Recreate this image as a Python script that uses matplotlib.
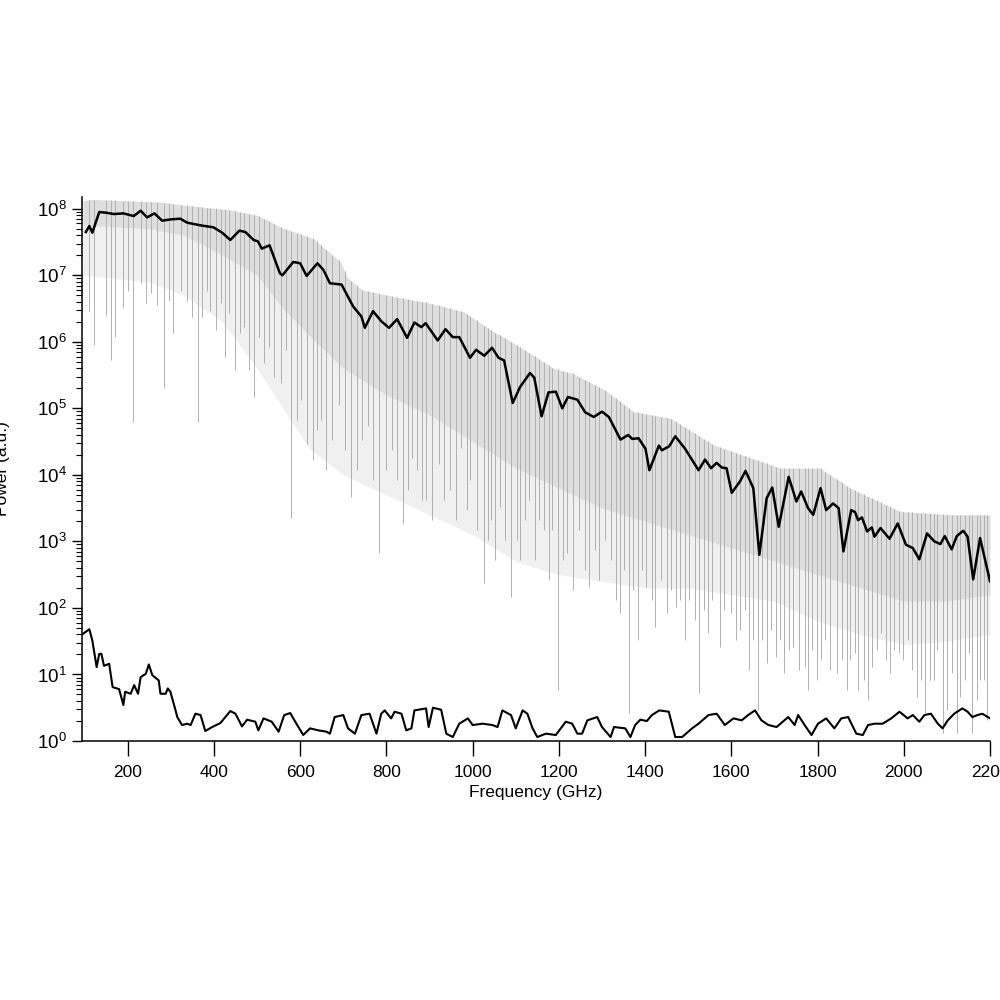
import numpy as np
import matplotlib
matplotlib.use("Agg")
import matplotlib.pyplot as plt
from matplotlib.ticker import LogLocator, FixedLocator, NullFormatter

plt.rcParams['font.family'] = ['Liberation Sans', 'DejaVu Sans']
plt.rcParams['mathtext.default'] = 'regular'

# ---------------- data ----------------
# smoothed signal spectrum (black, upper)  -- frequency (GHz), log10(power)
sig_f = [103, 111, 118, 134, 150, 168, 190, 214, 230, 245, 262, 280, 300, 322, 338, 369, 399, 419,
         438, 459, 473, 492, 502, 511, 529, 553, 559, 584, 600, 615, 640, 654, 669, 696, 723, 742,
         750, 769, 788, 806, 825, 848, 865, 881, 891, 919, 937, 954, 969, 994, 1008, 1027, 1045,
         1060, 1073, 1093, 1110, 1133, 1143, 1160, 1176, 1193, 1208, 1221, 1243, 1261, 1281, 1300,
         1316, 1343, 1361, 1370, 1385, 1401, 1410, 1432, 1439, 1456, 1470, 1493, 1524, 1539, 1553,
         1566, 1578, 1589, 1601, 1620, 1633, 1651, 1665, 1682, 1695, 1710, 1733, 1751, 1762, 1778,
         1790, 1807, 1820, 1836, 1849, 1860, 1878, 1887, 1894, 1903, 1915, 1926, 1932, 1946, 1967,
         1986, 2005, 2021, 2036, 2054, 2071, 2085, 2095, 2111, 2123, 2138, 2148, 2161, 2177, 2200]
sig_log = [7.65, 7.74, 7.64, 7.95, 7.94, 7.92, 7.93, 7.89, 7.97, 7.87, 7.93, 7.82, 7.84, 7.85, 7.79,
           7.75, 7.72, 7.64, 7.53, 7.67, 7.65, 7.53, 7.51, 7.40, 7.45, 7.03, 7.00, 7.20, 7.18, 6.99,
           7.18, 7.08, 6.88, 6.86, 6.53, 6.38, 6.21, 6.46, 6.31, 6.21, 6.34, 6.06, 6.29, 6.22, 6.28,
           6.02, 6.19, 6.07, 6.07, 5.76, 5.88, 5.79, 5.91, 5.76, 5.72, 5.08, 5.32, 5.53, 5.46, 4.88,
           5.24, 5.25, 5.00, 5.17, 5.13, 4.94, 4.87, 4.95, 4.87, 4.53, 4.60, 4.54, 4.55, 4.39, 4.07,
           4.44, 4.37, 4.43, 4.58, 4.39, 4.07, 4.23, 4.10, 4.18, 4.11, 4.10, 3.73, 3.90, 4.06, 3.80,
           2.80, 3.65, 3.81, 3.22, 3.97, 3.60, 3.75, 3.50, 3.40, 3.80, 3.47, 3.57, 3.50, 2.85, 3.47,
           3.44, 3.32, 3.36, 3.15, 3.21, 3.07, 3.20, 3.04, 3.27, 2.95, 2.90, 2.73, 3.12, 3.00, 2.96,
           3.08, 2.88, 3.08, 3.16, 3.07, 2.43, 3.05, 2.40]

# noise floor (black, lower) -- frequency (GHz), log10(power)
noise_f = [96, 111, 118, 128, 134, 139, 145, 157, 165, 180, 190, 194, 207, 215, 224, 230, 242, 249,
           257, 272, 276, 288, 293, 299, 311, 315, 326, 338, 346, 357, 369, 380, 396, 415, 438, 450,
           465, 477, 496, 503, 515, 534, 550, 563, 577, 584, 596, 607, 623, 642, 661, 669, 680, 700,
           711, 727, 742, 761, 777, 788, 796, 811, 819, 835, 846, 858, 865, 892, 898, 908, 927, 939,
           954, 969, 989, 1000, 1023, 1046, 1058, 1069, 1089, 1100, 1116, 1127, 1139, 1150, 1170,
           1193, 1216, 1231, 1243, 1254, 1266, 1289, 1300, 1320, 1328, 1354, 1366, 1377, 1389, 1404,
           1416, 1433, 1455, 1470, 1486, 1509, 1524, 1547, 1566, 1585, 1605, 1624, 1639, 1655, 1670,
           1686, 1705, 1732, 1747, 1755, 1770, 1786, 1801, 1820, 1839, 1855, 1871, 1890, 1905, 1917,
           1932, 1951, 1971, 1990, 2009, 2021, 2036, 2048, 2063, 2079, 2090, 2102, 2117, 2136, 2148,
           2159, 2171, 2182, 2200]
noise_log = [1.61, 1.68, 1.51, 1.11, 1.31, 1.31, 1.13, 1.16, 0.81, 0.78, 0.54, 0.74, 0.71, 0.84,
             0.71, 0.96, 1.01, 1.15, 0.99, 0.91, 0.71, 0.71, 0.79, 0.74, 0.46, 0.36, 0.24, 0.26,
             0.24, 0.41, 0.39, 0.15, 0.21, 0.27, 0.45, 0.41, 0.22, 0.32, 0.29, 0.16, 0.34, 0.29,
             0.14, 0.39, 0.42, 0.34, 0.21, 0.09, 0.19, 0.16, 0.14, 0.11, 0.36, 0.39, 0.19, 0.11,
             0.39, 0.41, 0.11, 0.41, 0.46, 0.34, 0.44, 0.41, 0.16, 0.19, 0.46, 0.49, 0.21, 0.50,
             0.47, 0.11, 0.06, 0.26, 0.34, 0.24, 0.26, 0.24, 0.21, 0.46, 0.39, 0.19, 0.46, 0.41,
             0.19, 0.06, 0.11, 0.09, 0.29, 0.26, 0.11, 0.11, 0.31, 0.36, 0.21, 0.06, 0.21, 0.19,
             0.06, 0.24, 0.32, 0.30, 0.39, 0.46, 0.44, 0.06, 0.06, 0.19, 0.26, 0.39, 0.41, 0.24,
             0.34, 0.31, 0.39, 0.46, 0.31, 0.24, 0.21, 0.36, 0.24, 0.39, 0.24, 0.09, 0.26, 0.34,
             0.19, 0.34, 0.36, 0.11, 0.09, 0.24, 0.26, 0.26, 0.34, 0.44, 0.34, 0.39, 0.29, 0.39,
             0.41, 0.26, 0.19, 0.31, 0.41, 0.49, 0.44, 0.36, 0.39, 0.41, 0.34]

# raw spectrum (grey): upper envelope, lower edge of the dense core, lower edge of faint band
env_f = [96, 114, 276, 323, 439, 501, 532, 555, 631, 694, 709, 744, 817, 902, 979, 1049, 1072,
         1130, 1188, 1234, 1308, 1373, 1459, 1559, 1714, 1806, 1876, 1992, 2108, 2200]
env_top = [8.12, 8.14, 8.10, 8.06, 7.98, 7.90, 7.80, 7.72, 7.55, 7.20, 6.97, 6.78, 6.68, 6.58,
           6.45, 6.15, 6.07, 5.84, 5.60, 5.52, 5.27, 4.95, 4.85, 4.45, 4.10, 4.10, 3.80, 3.45,
           3.40, 3.40]
band_f = [96, 250, 330, 420, 500, 560, 620, 700, 800, 900, 1000, 1100, 1200, 1300, 1400, 1500,
          1600, 1700, 1800, 1900, 2000, 2100, 2200]
core_low = [7.75, 7.7, 7.6, 7.3, 7.0, 6.5, 6.1, 5.6, 5.2, 4.9, 4.5, 4.1, 3.8, 3.5, 3.3, 3.1,
            2.9, 2.7, 2.5, 2.3, 2.1, 2.1, 2.2]
band_low = [7.0, 6.9, 6.7, 6.3, 5.6, 5.0, 4.4, 4.0, 3.7, 3.4, 3.1, 2.7, 2.5, 2.4, 2.3, 2.3, 2.2,
            2.1, 1.8, 1.6, 1.45, 1.5, 1.6]

# narrow absorption dips of the raw spectrum: frequency (GHz), log10 of the dip bottom
dip_f = [110, 122, 149, 161, 171, 190, 201, 212, 230, 242, 253, 269, 284, 296, 304, 323, 337, 350,
         364, 373, 385, 392, 404, 416, 425, 435, 448, 460, 470, 481, 493, 504, 516, 528, 539, 555,
         566, 579, 592, 603, 615, 629, 638, 649, 661, 675, 689, 703, 719, 731, 743, 757, 770, 784,
         798, 812, 824, 839, 849, 859, 870, 882, 893, 905, 921, 933, 948, 961, 974, 986, 995, 1009,
         1027, 1035, 1043, 1053, 1063, 1076, 1090, 1102, 1111, 1121, 1131, 1144, 1153, 1165, 1176,
         1185, 1197, 1209, 1220, 1232, 1247, 1260, 1271, 1283, 1294, 1308, 1322, 1332, 1342, 1352,
         1362, 1373, 1383, 1394, 1403, 1415, 1424, 1438, 1451, 1461, 1471, 1482, 1492, 1503, 1515,
         1526, 1536, 1546, 1556, 1573, 1584, 1600, 1612, 1621, 1631, 1641, 1651, 1661, 1672, 1682,
         1691, 1703, 1714, 1723, 1733, 1743, 1756, 1770, 1779, 1788, 1798, 1807, 1818, 1830, 1845,
         1856, 1869, 1876, 1886, 1895, 1907, 1918, 1927, 1937, 1947, 1958, 1967, 1978, 1988, 1999,
         2009, 2018, 2030, 2039, 2049, 2060, 2069, 2078, 2090, 2101, 2111, 2124, 2131, 2141, 2151,
         2159, 2169, 2176, 2185, 2192, 2199]
dip_log = [6.47, 5.95, 6.40, 5.72, 6.07, 6.52, 6.77, 4.79, 6.89, 6.58, 6.73, 6.55, 5.30, 6.62,
           6.13, 6.77, 6.62, 6.37, 4.79, 6.37, 6.77, 6.47, 6.17, 6.58, 5.77, 6.43, 5.57, 6.13, 6.22,
           5.57, 5.17, 6.07, 5.68, 5.92, 5.47, 5.38, 5.87, 3.35, 4.82, 5.12, 4.47, 4.22, 4.67, 4.82,
           4.07, 4.52, 5.05, 4.37, 3.66, 4.07, 4.52, 4.74, 3.92, 2.82, 4.07, 4.37, 3.92, 3.27, 3.77,
           4.26, 4.07, 3.62, 3.62, 3.32, 4.17, 3.62, 3.77, 3.32, 4.41, 3.47, 3.92, 3.17, 2.37, 3.02,
           3.32, 2.72, 3.51, 3.02, 2.16, 3.02, 2.72, 3.32, 3.62, 2.72, 3.32, 3.17, 2.42, 3.17, 0.77,
           2.72, 2.82, 2.27, 3.17, 2.57, 2.31, 2.87, 2.42, 3.02, 2.72, 2.12, 1.92, 2.57, 0.42, 2.27,
           1.52, 2.57, 2.31, 2.12, 1.71, 2.42, 1.92, 2.27, 2.01, 2.12, 1.52, 2.12, 1.82, 0.72, 1.97,
           1.62, 2.12, 1.41, 1.97, 1.92, 1.52, 1.67, 1.97, 1.07, 1.52, 0.47, 1.52, 1.17, 1.67, 1.26,
           1.52, 1.02, 1.37, 1.41, 1.07, 1.11, 0.77, 1.37, 0.92, 1.22, 1.52, 1.07, 1.02, 1.22, 0.77,
           1.22, 1.32, 0.77, 0.92, 0.62, 1.11, 1.37, 1.62, 1.22, 1.02, 1.37, 1.32, 1.22, 1.52, 1.07,
           0.66, 0.92, 0.42, 0.92, 0.92, 1.37, 0.12, 0.47, 1.02, 0.12, 0.66, 0.92, 1.32, 0.12, 0.62,
           0.92, 0.92, 0.32, 0.12]

xticks = [200, 400, 600, 800, 1000, 1200, 1400, 1600, 1800, 2000, 2200]

# ---------------- figure ----------------
fig = plt.figure(figsize=(10, 10), dpi=100)
ax = fig.add_axes([0.082, 0.259, 0.908, 0.544])

ef = np.array(env_f, float)
bf = np.array(band_f, float)
grid = np.union1d(ef, bf)
top_g = np.interp(grid, ef, env_top)
core_g = np.minimum(np.interp(grid, bf, core_low), top_g)
low_g = np.minimum(np.interp(grid, bf, band_low), core_g)
# faint lower part of the grey band
ax.fill_between(grid, np.power(10.0, low_g), np.power(10.0, core_g),
                color='#f0f0f0', lw=0, zorder=1)
# dense upper part of the grey band
ax.fill_between(grid, np.power(10.0, core_g), np.power(10.0, top_g),
                color='#dedede', lw=0, zorder=1)

df = np.array(dip_f, float)
dtop = np.power(10.0, np.interp(df, ef, env_top))
ax.vlines(df, np.power(10.0, dip_log), dtop, color='#b0b0b0', lw=0.7, zorder=2)

ax.plot(sig_f, np.power(10.0, sig_log), color='black', lw=1.8, zorder=4,
        solid_joinstyle='round')
ax.plot(noise_f, np.power(10.0, noise_log), color='black', lw=1.5, zorder=4,
        solid_joinstyle='round')

ax.set_yscale('log')
ax.set_xlim(94, 2200)
ax.set_ylim(1, 1.5e8)
ax.xaxis.set_major_locator(FixedLocator(xticks))
ax.yaxis.set_major_locator(LogLocator(base=10, numticks=20))
ax.yaxis.set_minor_locator(LogLocator(base=10, subs=np.arange(2, 10), numticks=20))
ax.yaxis.set_minor_formatter(NullFormatter())

for s in ['top', 'right']:
    ax.spines[s].set_visible(False)
for s in ['left', 'bottom']:
    ax.spines[s].set_linewidth(1.1)

ax.tick_params(axis='x', which='major', direction='out', length=11, width=1.0,
               labelsize=12.5, pad=6)
ax.tick_params(axis='y', which='major', direction='out', length=7, width=1.0,
               labelsize=13.5, pad=4)
ax.tick_params(axis='y', which='minor', direction='out', length=4, width=0.8)

ax.set_xlabel('Frequency (GHz)', fontsize=12.5, labelpad=4)
ax.set_ylabel('Power (a.u.)', fontsize=12.5)
ax.yaxis.set_label_coords(-0.079, 0.5)

fig.savefig('out.png', dpi=100)
